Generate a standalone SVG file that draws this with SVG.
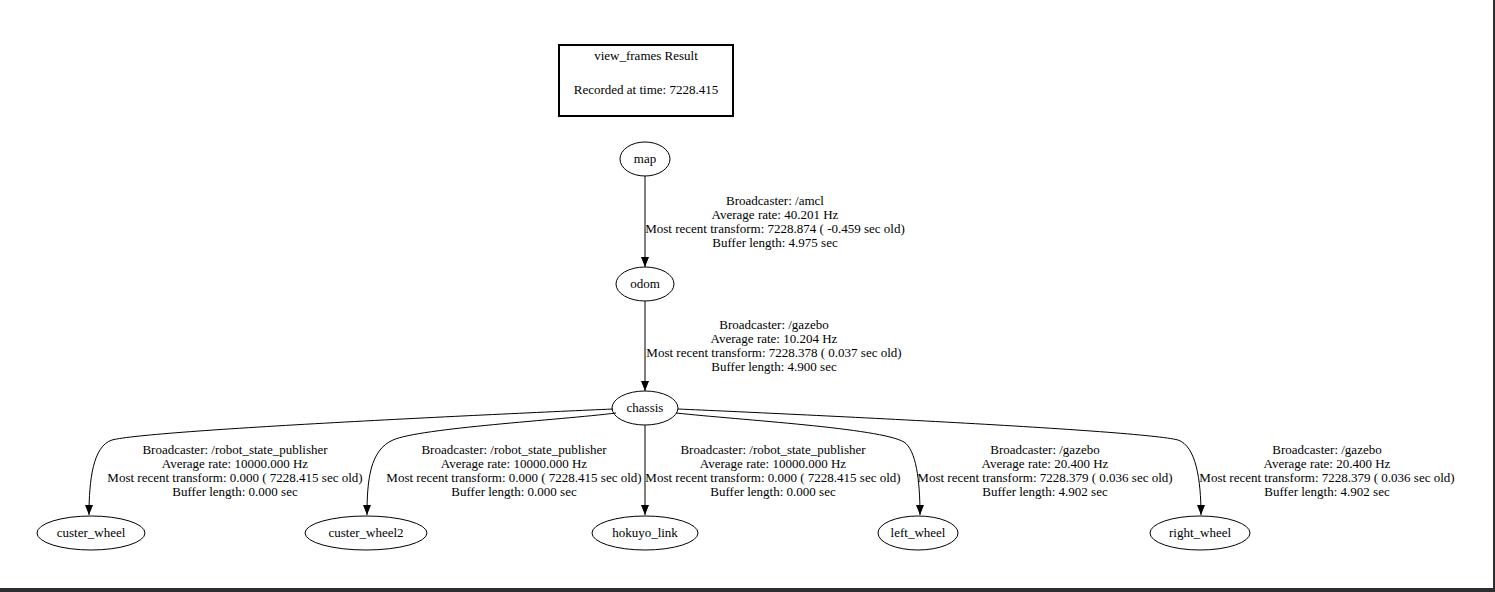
<svg xmlns="http://www.w3.org/2000/svg" width="1495" height="592" viewBox="0 0 1495 592">
  <style>
    text { font-family: "Liberation Serif", "Times New Roman", serif; font-size: 13px; fill: #000; text-anchor: middle; }
    .node ellipse { fill: none; stroke: #000; stroke-width: 1; }
    .edge path { fill: none; stroke: #000; stroke-width: 1; }
  </style>
  <defs>
    <marker id="arrow" markerWidth="10" markerHeight="8" refX="10" refY="4" orient="auto" markerUnits="userSpaceOnUse">
      <path d="M0,0 L10,4 L0,8 Z" fill="#000"/>
    </marker>
  </defs>

  <rect x="0" y="0" width="1495" height="592" fill="#fff"/>
  <!-- window frame -->
  <rect x="1493" y="0" width="2" height="592" fill="#2b2f31"/>
  <rect x="0" y="588" width="1495" height="4" fill="#2b2f31"/>

  <!-- header -->
  <g id="header">
    <rect x="559" y="45" width="174" height="71" fill="none" stroke="#000" stroke-width="2"/>
    <text x="646" y="60">view_frames Result</text>
    <text x="646" y="94">Recorded at time: 7228.415</text>
  </g>

  <!-- connectors -->
  <g id="connectors" class="edge">
    <path d="M645,176 L645,267" marker-end="url(#arrow)"/>
    <path d="M645,301 L645,391" marker-end="url(#arrow)"/>
    <path d="M613,409 C500,414 150,430 112,440 C93,446 89,480 89,515" marker-end="url(#arrow)"/>
    <path d="M616,413 C560,420 420,428 393,440 C370,450 367,480 367,515" marker-end="url(#arrow)"/>
    <path d="M645,425 L645,515" marker-end="url(#arrow)"/>
    <path d="M676,413 C740,420 880,428 904,442 C916,450 920,480 920,515" marker-end="url(#arrow)"/>
    <path d="M678,409 C790,414 1140,430 1178,440 C1196,446 1201,480 1201,515" marker-end="url(#arrow)"/>
  </g>

  <!-- edge labels -->
  <g id="labels">
    <text x="775" y="205">Broadcaster: /amcl</text>
    <text x="775" y="219">Average rate: 40.201 Hz</text>
    <text x="775" y="233">Most recent transform: 7228.874 ( -0.459 sec old)</text>
    <text x="775" y="247">Buffer length: 4.975 sec</text>

    <text x="774" y="329">Broadcaster: /gazebo</text>
    <text x="774" y="343">Average rate: 10.204 Hz</text>
    <text x="774" y="357">Most recent transform: 7228.378 ( 0.037 sec old)</text>
    <text x="774" y="371">Buffer length: 4.900 sec</text>

    <text x="235" y="454">Broadcaster: /robot_state_publisher</text>
    <text x="235" y="468">Average rate: 10000.000 Hz</text>
    <text x="235" y="482">Most recent transform: 0.000 ( 7228.415 sec old)</text>
    <text x="235" y="496">Buffer length: 0.000 sec</text>

    <text x="514" y="454">Broadcaster: /robot_state_publisher</text>
    <text x="514" y="468">Average rate: 10000.000 Hz</text>
    <text x="514" y="482">Most recent transform: 0.000 ( 7228.415 sec old)</text>
    <text x="514" y="496">Buffer length: 0.000 sec</text>

    <text x="773" y="454">Broadcaster: /robot_state_publisher</text>
    <text x="773" y="468">Average rate: 10000.000 Hz</text>
    <text x="773" y="482">Most recent transform: 0.000 ( 7228.415 sec old)</text>
    <text x="773" y="496">Buffer length: 0.000 sec</text>

    <text x="1045" y="454">Broadcaster: /gazebo</text>
    <text x="1045" y="468">Average rate: 20.400 Hz</text>
    <text x="1045" y="482">Most recent transform: 7228.379 ( 0.036 sec old)</text>
    <text x="1045" y="496">Buffer length: 4.902 sec</text>

    <text x="1327" y="454">Broadcaster: /gazebo</text>
    <text x="1327" y="468">Average rate: 20.400 Hz</text>
    <text x="1327" y="482">Most recent transform: 7228.379 ( 0.036 sec old)</text>
    <text x="1327" y="496">Buffer length: 4.902 sec</text>
  </g>

  <!-- frames -->
  <g id="map" class="node">
    <ellipse cx="645" cy="159" rx="25" ry="17"/>
    <text x="645" y="163">map</text>
  </g>
  <g id="odom" class="node">
    <ellipse cx="645" cy="284" rx="29" ry="17"/>
    <text x="645" y="288">odom</text>
  </g>
  <g id="chassis" class="node">
    <ellipse cx="645" cy="408" rx="33" ry="17"/>
    <text x="645" y="412">chassis</text>
  </g>
  <g id="custer_wheel" class="node">
    <ellipse cx="91" cy="533" rx="54" ry="17"/>
    <text x="91" y="537">custer_wheel</text>
  </g>
  <g id="custer_wheel2" class="node">
    <ellipse cx="366" cy="533" rx="61" ry="17"/>
    <text x="366" y="537">custer_wheel2</text>
  </g>
  <g id="hokuyo_link" class="node">
    <ellipse cx="645" cy="533" rx="53" ry="17"/>
    <text x="645" y="537">hokuyo_link</text>
  </g>
  <g id="left_wheel" class="node">
    <ellipse cx="918" cy="533" rx="40" ry="17"/>
    <text x="918" y="537">left_wheel</text>
  </g>
  <g id="right_wheel" class="node">
    <ellipse cx="1200" cy="533" rx="50" ry="17"/>
    <text x="1200" y="537">right_wheel</text>
  </g>
</svg>
